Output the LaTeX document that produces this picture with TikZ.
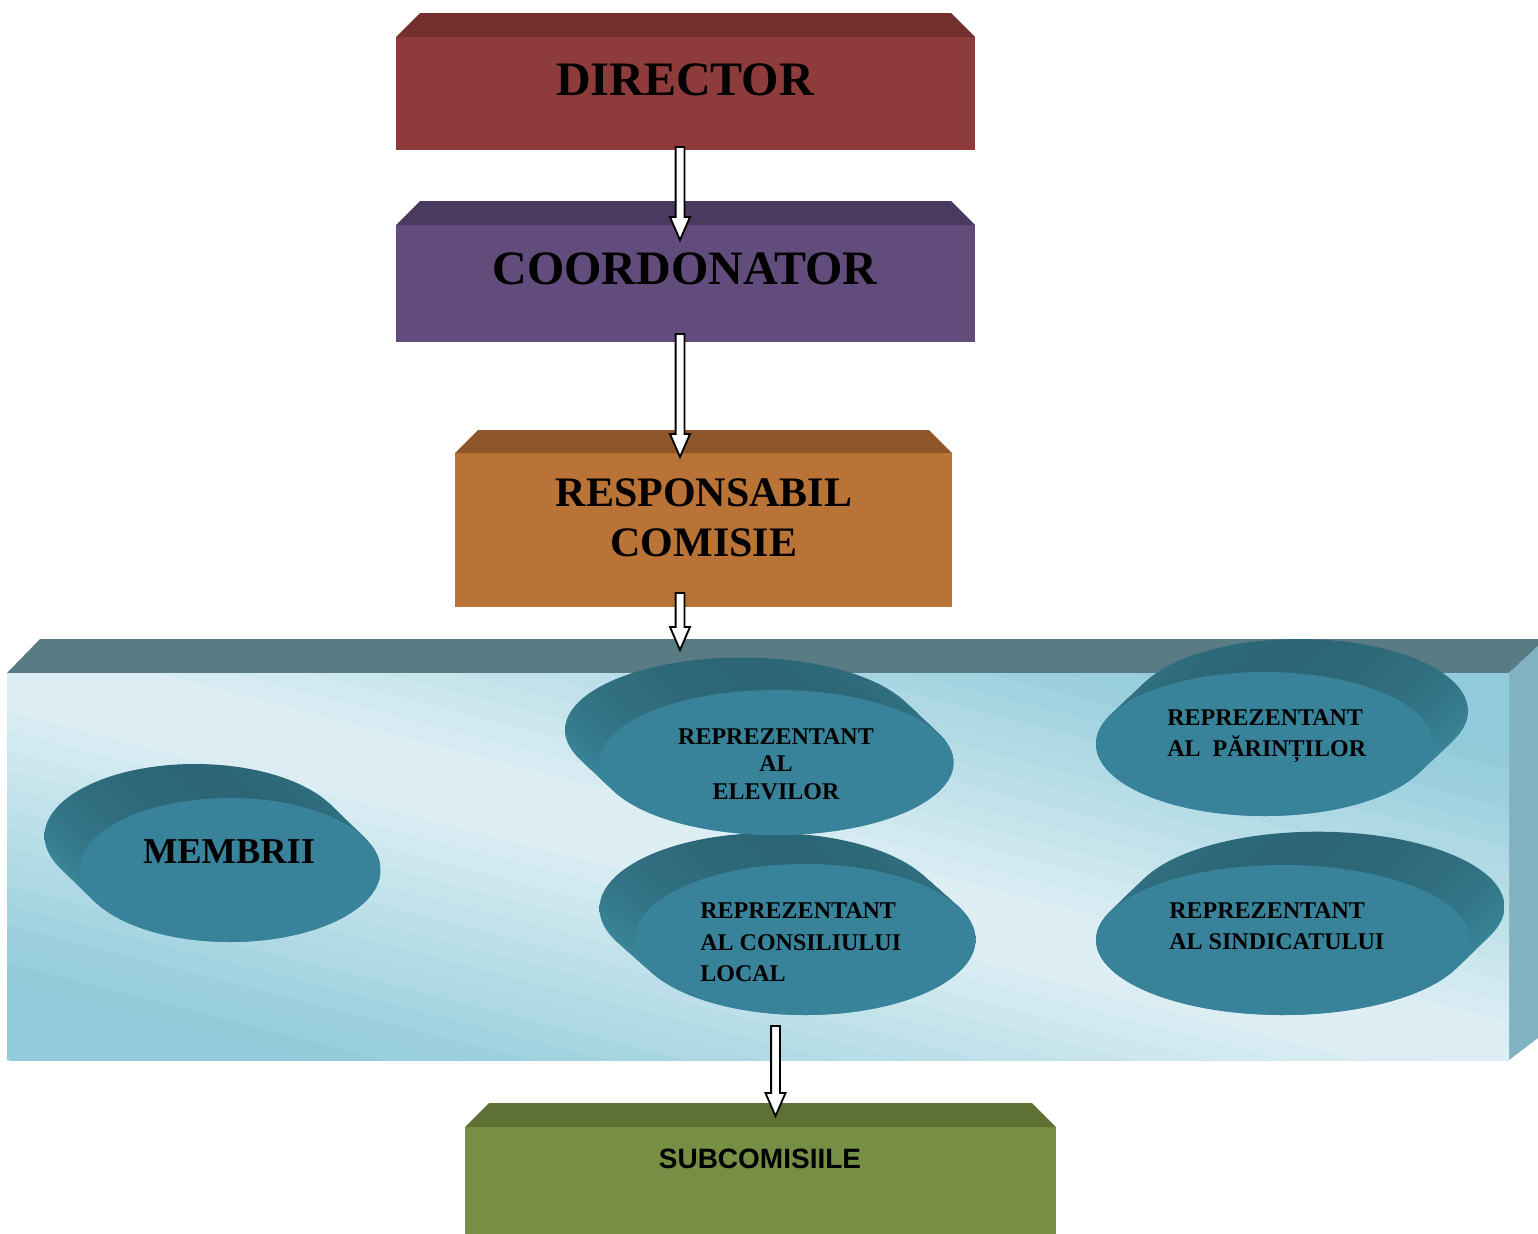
\documentclass[tikz,border=0pt]{standalone}
\usepackage{fontspec}
\setmainfont{Liberation Serif}
\newfontfamily\subfont{Liberation Sans}
\usetikzlibrary{shapes.geometric,calc}

\definecolor{dirfront}{HTML}{8E3C3B}
\definecolor{dirtop}{HTML}{722F2E}
\definecolor{coofront}{HTML}{624C7C}
\definecolor{cootop}{HTML}{4B3A60}
\definecolor{resfront}{HTML}{BA7336}
\definecolor{restop}{HTML}{8F5629}
\definecolor{subfront}{HTML}{778F44}
\definecolor{subtop}{HTML}{5E7034}
\definecolor{ptop}{HTML}{597B83}
\definecolor{pside}{HTML}{80B2C1}
\definecolor{plight}{HTML}{DDEFF4}
\definecolor{pdark}{HTML}{92CBDB}
\definecolor{dface}{HTML}{39839A}
\definecolor{dtop}{HTML}{2C6676}
\definecolor{dmid}{HTML}{4297AD}

\newcommand\bevbox[8]{%
  \node[fill=#7, minimum width=#4*0.5pt, minimum height=#5*0.5pt, inner sep=0pt, outer sep=0pt] (#1) at (#2,#3) {};
  \fill[#8] (#1.north west) -- ([shift={(#6,-#6)}]#1.north west) -- ([shift={(-#6,-#6)}]#1.north east) -- (#1.north east) -- cycle;
}

\newcommand\disk[7]{%
  \foreach \kk in {0,...,20}{%
    \pgfmathsetmacro\dk{1-\kk/20}%
    \shade[top color=dtop, middle color=dmid, bottom color=dmid] ({#2+\dk*#6},{#3+\dk*#7}) ellipse [x radius=#4*0.5pt, y radius=#5*0.5pt];
  }
  \node[ellipse, fill=dface, minimum width=#4*1pt, minimum height=#5*1pt, inner sep=0pt] (#1) at (#2,#3) {};
}

\tikzset{
  bigtxt/.style={font=\bfseries\fontsize{24}{28}\selectfont, inner sep=0pt},
  restxt/.style={font=\bfseries\fontsize{21}{25}\selectfont, inner sep=0pt, align=center},
  memtxt/.style={font=\bfseries\fontsize{18.2}{22}\selectfont, inner sep=0pt},
  smtxt/.style={font=\bfseries\fontsize{12}{#1}\selectfont, inner sep=0pt},
  subtxt/.style={font=\subfont\bfseries\fontsize{14}{17}\selectfont, inner sep=0pt},
  hollowarrow/.style={draw=black, fill=white, line width=0.9pt, line join=miter,
    to path={let \p1=(\tikztostart), \p2=(\tikztotarget) in
      (\x1-2.2pt,\y1) -- (\x1-2.2pt,\y2+11.5pt) -- (\x1-5pt,\y2+11.5pt) -- (\x2,\y2)
      -- (\x1+5pt,\y2+11.5pt) -- (\x1+2.2pt,\y2+11.5pt) -- (\x1+2.2pt,\y1) -- cycle}}
}

\begin{document}
\begin{tikzpicture}[x=0.5pt,y=-0.5pt]
\useasboundingbox (0,0) rectangle (1538,1233);
\clip (0,0) rectangle (1538,1233);

% boxes
\bevbox{dir}{685.5}{93.5}{579}{113}{24}{dirfront}{dirtop}
\bevbox{coo}{685.5}{283.5}{579}{117}{24}{coofront}{cootop}
\bevbox{res}{703.5}{530}{497}{154}{23}{resfront}{restop}
\bevbox{sub}{760.5}{1186}{591}{118}{24}{subfront}{subtop}

\node[bigtxt, anchor=base] (dirt) at (685,95) {DIRECTOR};
\node[bigtxt, anchor=base] (coot) at (685,284) {COORDONATOR};
\node[restxt] (rest) at (704,518) {RESPONSABIL\\COMISIE};
\node[subtxt, anchor=base] (subt) at (760,1168) {SUBCOMISIILE};

% panel
\fill[ptop] (7,673) -- (40,639) -- (1538,639) -- (1538,646) -- (1509,673) -- cycle;
\fill[pside] (1509,673) -- (1538,646) -- (1538,1038) -- (1509,1060) -- cycle;
\begin{scope}
  \clip (7,673) rectangle (1509,1060);
  \foreach \i in {0,...,39}{%
    \pgfmathsetmacro\ta{-1+\i/20}%
    \pgfmathsetmacro\tb{-1+(\i+1.4)/20}%
    \pgfmathsetmacro\tm{abs(-1+(\i+0.5)/20)}%
    \pgfmathsetmacro\pc{max(0,min(100,(\tm-0.06)/0.72*100))}%
    \fill[pdark!\pc!plight] ({758+\ta*751-1502},{866.5-\ta*193.5-387}) -- ({758+\ta*751+1502},{866.5-\ta*193.5+387}) -- ({758+\tb*751+1502},{866.5-\tb*193.5+387}) -- ({758+\tb*751-1502},{866.5-\tb*193.5-387}) -- cycle;
  }
\end{scope}
\node[minimum width=751pt, minimum height=193.5pt, inner sep=0pt] (panel) at (758,866.5) {};

% disks
\disk{mem}{230}{870}{150.5}{72}{-35}{-34}
\disk{cons}{805}{939.5}{170.5}{75.5}{-35}{-31}
\disk{elev}{776.5}{762.5}{177}{72.5}{-34.5}{-32.5}
\disk{par}{1264.5}{744}{168.5}{72}{35}{-33}
\disk{sind}{1283}{940}{187}{75}{34.5}{-33.3}

\node[memtxt, anchor=base] (memt) at (229,863) {MEMBRII};
\node[smtxt=13.8, align=center] (elevt) at (776,764) {REPREZENTANT\\AL\\ELEVILOR};
\node[smtxt=15.75, align=left, anchor=west] (const) at (700,942.5) {REPREZENTANT\\AL CONSILIULUI\\LOCAL};
\node[smtxt=15.2, align=left, anchor=west] (part) at (1167,736) {REPREZENTANT\\AL~ PĂRINȚILOR};
\node[smtxt=15.5, align=left, anchor=west] (sindt) at (1169,926) {REPREZENTANT\\AL SINDICATULUI};

% arrows
\coordinate (a1s) at (680,147);
\coordinate (a1e) at (680,240);
\coordinate (a2s) at (680,334);
\coordinate (a2e) at (680,457);
\coordinate (a3s) at (680,593);
\coordinate (a3e) at (680,650);
\coordinate (a4s) at (775.5,1026);
\coordinate (a4e) at (775.5,1116);
\draw[hollowarrow] (a1s) to (a1e);
\draw[hollowarrow] (a2s) to (a2e);
\draw[hollowarrow] (a3s) to (a3e);
\draw[hollowarrow] (a4s) to (a4e);
\end{tikzpicture}
\end{document}
